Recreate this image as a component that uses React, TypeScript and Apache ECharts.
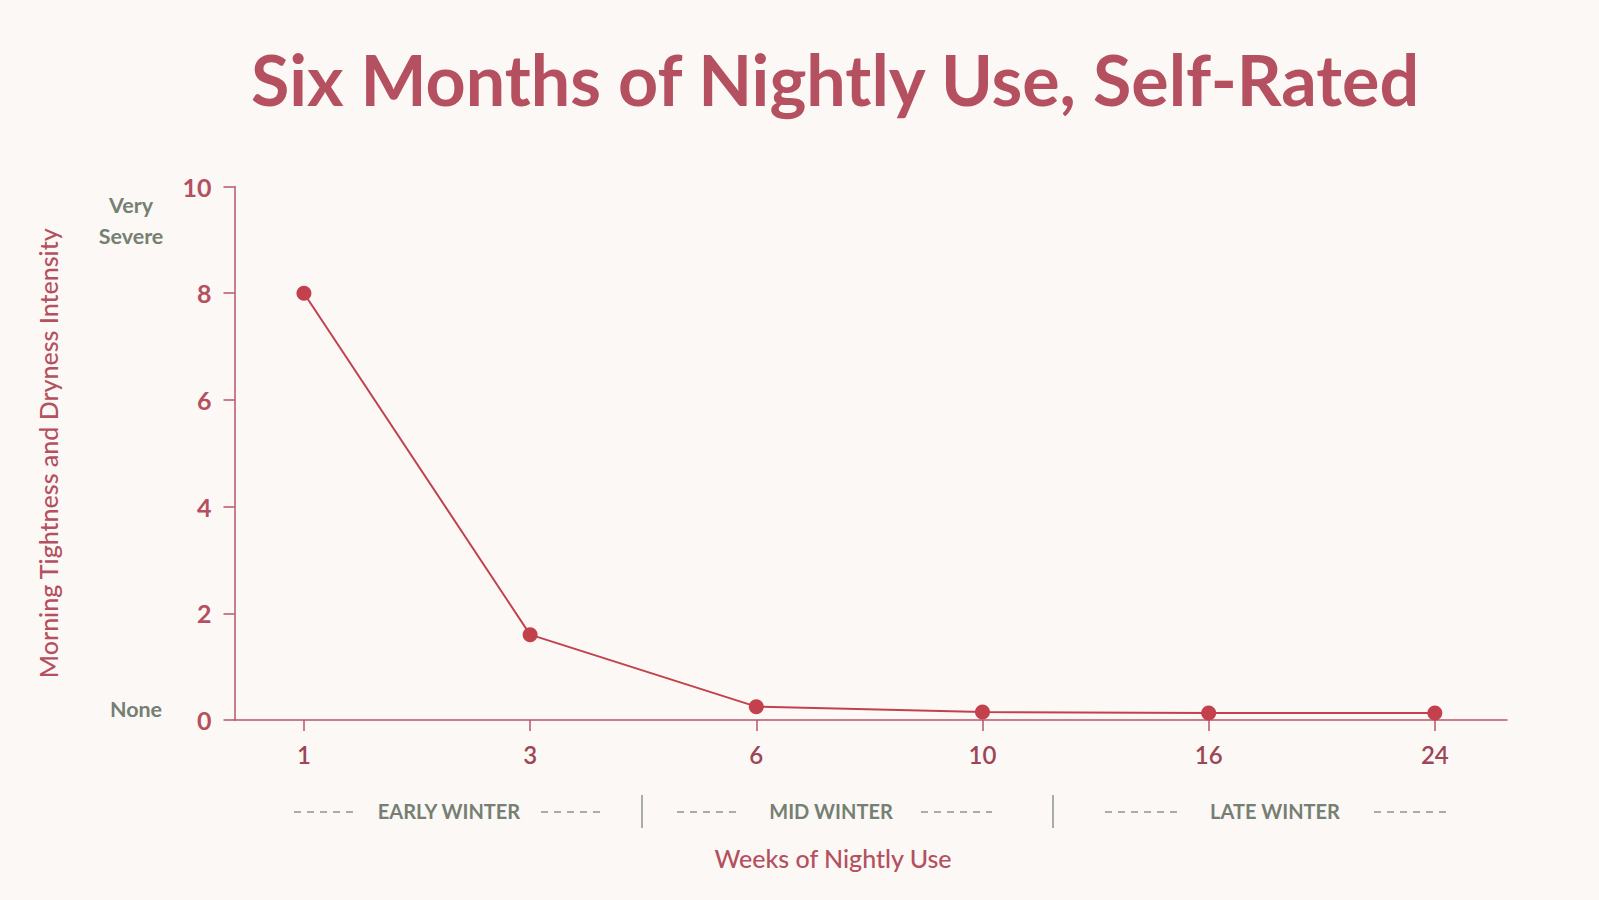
import { useRef, useEffect } from 'react'
import * as echarts from 'echarts'

// ── data ─────────────────────────────────────────
const WEEKS = ['1', '3', '6', '10', '16', '24']
const INTENSITY = [8, 1.6, 0.25, 0.15, 0.13, 0.13]
const SEASONS = ['EARLY WINTER', 'MID WINTER', 'LATE WINTER']

const ROSE = '#b4505f'
const ROSE_DARK = '#9c4656'
const LINE_RED = '#c2414c'
const SAGE = '#757f73'
const BG = '#fcf8f5'
const FONT = 'Lato, "Open Sans", sans-serif'

// 季节标注（位置为版面坐标）
const SEASON_LAYOUT = [
  { cx: 449, d1: [294, 357], d2: [541, 605] },
  { cx: 831, d1: [677, 741], d2: [921, 992] },
  { cx: 1275, d1: [1105, 1178], d2: [1374, 1446] },
]
const SEP_X = [642, 1053]

function centerText(x: number, y: number, text: string, fill: string, font: string, extra: object = {}) {
  return {
    type: 'text', x, y,
    style: { text, fill, font, textAlign: 'center', textVerticalAlign: 'middle', ...extra },
  }
}

function buildOption() {
  const graphics: any[] = []
  SEASONS.forEach((name, i) => {
    const s = SEASON_LAYOUT[i]
    graphics.push(centerText(s.cx, 811, name, SAGE, `bold 20px ${FONT}`))
    ;[s.d1, s.d2].forEach(([a, b]) => {
      graphics.push({
        type: 'line',
        shape: { x1: a, y1: 812, x2: b, y2: 812 },
        style: { stroke: '#8d958a', lineWidth: 1.3, lineDash: [7, 6] },
      })
    })
  })
  SEP_X.forEach(x => {
    graphics.push({
      type: 'line',
      shape: { x1: x, y1: 795, x2: x, y2: 828 },
      style: { stroke: '#8d958a', lineWidth: 1.5 },
    })
  })
  graphics.push(
    centerText(131, 220, 'Very\nSevere', SAGE, `bold 21.5px ${FONT}`, { lineHeight: 31 }),
    centerText(136, 709, 'None', SAGE, `bold 21.5px ${FONT}`),
    centerText(833, 858, 'Weeks of Nightly Use', ROSE, `500 25px ${FONT}`),
  )

  return {
    animation: false,
    backgroundColor: BG,
    title: {
      text: 'Six Months of Nightly Use, Self-Rated',
      left: 830,
      textAlign: 'center',
      top: 39,
      textStyle: { color: ROSE, fontSize: 70, fontWeight: 'bold', fontFamily: FONT },
    },
    grid: { left: 234.5, right: 92, top: 186.5, bottom: 180, containLabel: false },
    xAxis: {
      type: 'value',
      min: -0.307,
      max: 5.319,
      splitLine: { show: false },
      axisLine: { show: true, lineStyle: { color: '#b8566a', width: 1.5 } },
      axisTick: { show: true, length: 11, lineStyle: { color: '#b8566a', width: 1.5 }, customValues: WEEKS.map((_, i) => i) },
      axisLabel: {
        customValues: WEEKS.map((_, i) => i),
        formatter: (v: number) => WEEKS[Math.round(v)] ?? '',
        color: ROSE_DARK, fontSize: 24, fontWeight: 600, fontFamily: FONT, margin: 22,
      },
    },
    yAxis: {
      type: 'value',
      min: 0,
      max: 10,
      interval: 2,
      splitLine: { show: false },
      axisLine: { show: true, onZero: false, lineStyle: { color: '#b8566a', width: 1.5 } },
      axisTick: { show: true, length: 11, lineStyle: { color: '#b8566a', width: 1.5 } },
      axisLabel: { color: ROSE, fontSize: 25, fontWeight: 'bold', fontFamily: FONT, margin: 23 },
      name: 'Morning Tightness and Dryness Intensity',
      nameLocation: 'middle',
      nameGap: 174,
      nameRotate: 90,
      nameMoveOverlap: false,
      nameTextStyle: { color: ROSE, fontSize: 25, fontWeight: 500, fontFamily: FONT },
    },
    series: [{
      type: 'line',
      data: INTENSITY.map((v, i) => [i, v]),
      symbol: 'circle',
      symbolSize: 15,
      itemStyle: { color: LINE_RED },
      lineStyle: { color: LINE_RED, width: 2 },
    }],
    graphic: graphics,
  }
}

export default function App() {
  const ref = useRef<HTMLDivElement>(null)

  useEffect(() => {
    if (!ref.current) return
    const chart = echarts.init(ref.current, null, { renderer: 'svg' })
    chart.setOption(buildOption())
    return () => chart.dispose()
  }, [])

  return (
    <div style={{ position: 'fixed', left: 0, top: 0, width: '100vw', height: '100vh', background: BG }}>
      <div ref={ref} style={{ width: '100%', height: '100%' }} />
    </div>
  )
}
